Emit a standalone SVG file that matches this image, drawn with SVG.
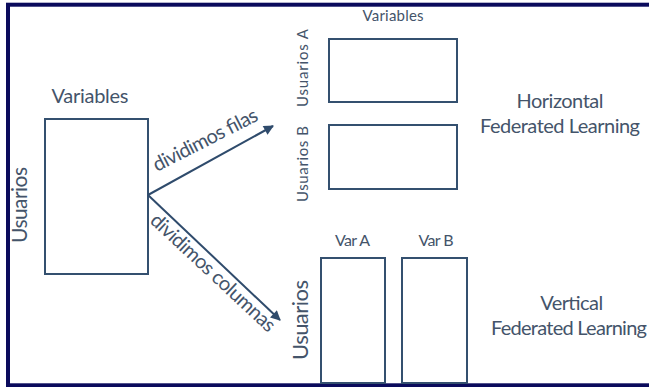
<svg xmlns="http://www.w3.org/2000/svg" width="649" height="387" viewBox="0 0 649 387">
  <defs>
    <style>
      .frame { fill: #ffffff; stroke: #0b0b5c; stroke-width: 4; }
      .box { fill: #ffffff; stroke: #34506f; stroke-width: 2; }
      .edge { fill: none; stroke: #2f4b6c; stroke-width: 2; }
      .lbl { font-family: Lato, "Liberation Sans", sans-serif; fill: #44546a; }
      .mid { text-anchor: middle; }
    </style>
    <marker id="head" viewBox="0 0 10 10" refX="9" refY="5" markerWidth="5.5" markerHeight="5" orient="auto" markerUnits="strokeWidth">
      <path d="M0,0 L10,5 L0,10 Z" fill="#2f4b6c"/>
    </marker>
  </defs>

  <!-- outer frame -->
  <rect class="frame" x="8" y="4.7" width="700" height="380.6"/>

  <!-- full data set -->
  <g id="dataset">
    <rect class="box" x="45" y="119" width="103" height="155"/>
    <text class="lbl mid" x="90" y="103" font-size="20" textLength="77">Variables</text>
    <text class="lbl mid" transform="translate(27,205) rotate(-90)" font-size="21" textLength="76">Usuarios</text>
  </g>

  <!-- horizontal split -->
  <g id="horizontal-a">
    <rect class="box" x="329" y="39" width="128" height="63"/>
    <text class="lbl mid" x="393" y="21" font-size="15" textLength="61">Variables</text>
    <text class="lbl mid" transform="translate(308,68) rotate(-90)" font-size="15" textLength="78">Usuarios A</text>
  </g>
  <g id="horizontal-b">
    <rect class="box" x="329" y="125" width="128" height="64"/>
    <text class="lbl mid" transform="translate(308,164) rotate(-90)" font-size="15" textLength="76">Usuarios B</text>
  </g>
  <g id="horizontal-title">
    <text class="lbl mid" x="560" y="108" font-size="20" textLength="87">Horizontal</text>
    <text class="lbl mid" x="560" y="133" font-size="20" textLength="160">Federated Learning</text>
  </g>

  <!-- vertical split -->
  <g id="vertical-a">
    <rect class="box" x="321" y="258" width="64" height="125"/>
    <text class="lbl mid" x="352.5" y="246" font-size="16" textLength="35">Var A</text>
    <text class="lbl mid" transform="translate(308,320) rotate(-90)" font-size="22" textLength="80">Usuarios</text>
  </g>
  <g id="vertical-b">
    <rect class="box" x="402" y="258" width="65" height="125"/>
    <text class="lbl mid" x="436" y="246" font-size="16" textLength="35">Var B</text>
  </g>
  <g id="vertical-title">
    <text class="lbl mid" x="571.7" y="310" font-size="20" textLength="63">Vertical</text>
    <text class="lbl" x="491" y="335" font-size="20" textLength="156">Federated Learning</text>
  </g>

  <!-- connectors -->
  <g id="connectors">
    <line class="edge" x1="148" y1="195" x2="273" y2="126" marker-end="url(#head)"/>
    <line class="edge" x1="148" y1="195" x2="280" y2="320" marker-end="url(#head)"/>
    <text class="lbl" transform="translate(157,172) rotate(-27)" font-size="20" textLength="115">dividimos filas</text>
    <text class="lbl" transform="translate(149,222) rotate(43)" font-size="20" textLength="163">dividimos columnas</text>
  </g>
</svg>
